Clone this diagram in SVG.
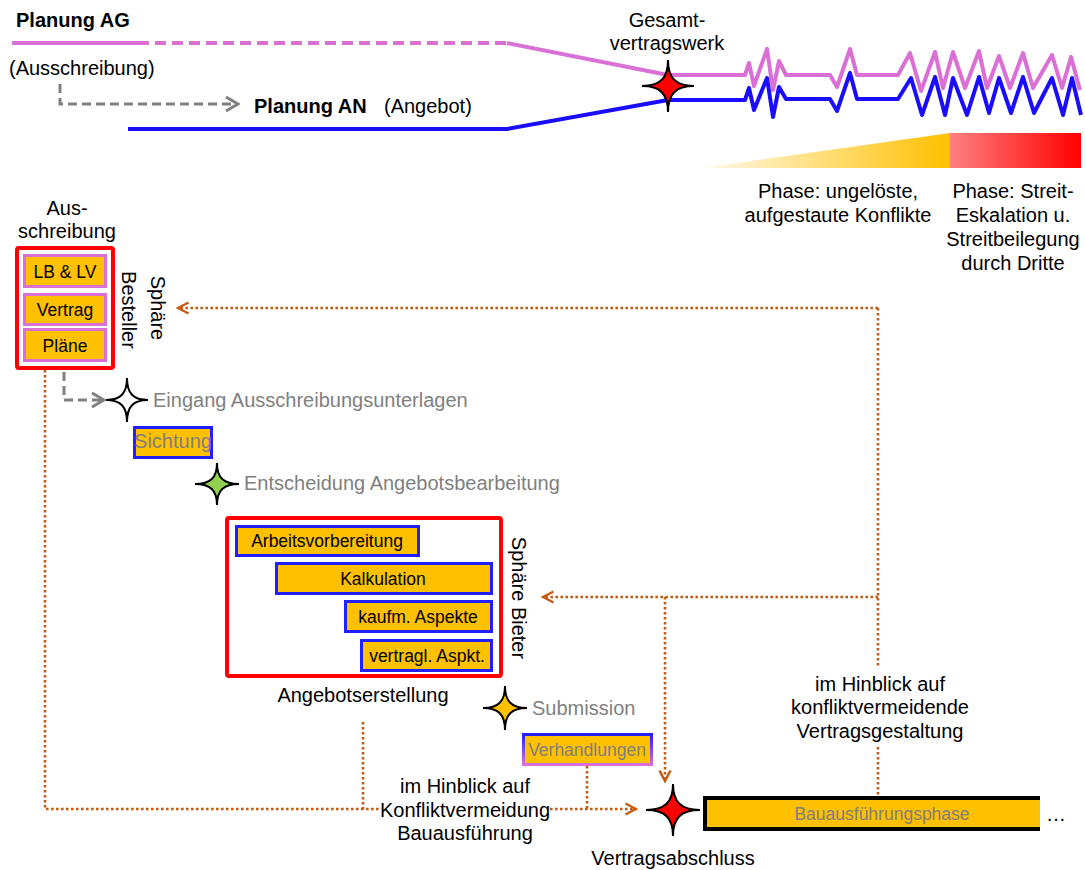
<svg xmlns="http://www.w3.org/2000/svg" width="1085" height="870" viewBox="0 0 1085 870">
  <style>
    text { font-family: "Liberation Sans", Arial, sans-serif; font-size: 20px; fill: #000; }
    .b { font-weight: bold; }
    .c { text-anchor: middle; }
    .g { fill: #7F7F7F; }
    .bx { font-size: 17.5px; }
    .task { fill: #FFC000; stroke: #2020FF; stroke-width: 3; }
    .doc { fill: #FFC000; stroke: #DA70D6; stroke-width: 3; }
    .sphere { fill: #FFFFFF; stroke: #FF0000; stroke-width: 4; }
    .dot { fill: none; stroke: #C55A11; stroke-width: 2.6; stroke-dasharray: 2.6 2.4; }
    .dash { fill: none; stroke: #808080; stroke-width: 3; stroke-dasharray: 9 5; }
    .ag { fill: none; stroke: #DA70D6; stroke-width: 4; stroke-linejoin: round; }
    .an { fill: none; stroke: #1A0DFF; stroke-width: 4; stroke-linejoin: round; }
    .star { stroke: #000; stroke-width: 2; stroke-linejoin: miter; }
  </style>
  <defs>
    <path id="star" d="M0,-1 C0,-0.3 0.3,0 1,0 C0.3,0 0,0.3 0,1 C0,0.3 -0.3,0 -1,0 C-0.3,0 0,-0.3 0,-1 Z" vector-effect="non-scaling-stroke"/>
    <marker id="arrO" markerWidth="14" markerHeight="14" refX="12" refY="7" orient="auto" markerUnits="userSpaceOnUse">
      <path d="M1.5,1.5 L12,7 L1.5,12.5" fill="none" stroke="#C55A11" stroke-width="2.5"/>
    </marker>
    <marker id="arrG" markerWidth="16" markerHeight="18" refX="14" refY="9" orient="auto" markerUnits="userSpaceOnUse">
      <path d="M2,2 L14,9 L2,16" fill="none" stroke="#808080" stroke-width="3"/>
    </marker>
    <linearGradient id="gradYellow" x1="0" y1="0" x2="1" y2="0">
      <stop offset="0" stop-color="#FFC000" stop-opacity="0.08"/>
      <stop offset="1" stop-color="#FFC000"/>
    </linearGradient>
    <linearGradient id="gradRed" x1="0" y1="0" x2="1" y2="0">
      <stop offset="0" stop-color="#FF8080"/>
      <stop offset="1" stop-color="#FF0000"/>
    </linearGradient>
    <linearGradient id="gradEdge" x1="0" y1="0" x2="0" y2="1">
      <stop offset="0" stop-color="#2020FF"/>
      <stop offset="1" stop-color="#DA70D6"/>
    </linearGradient>
  </defs>

  <!-- planning lines of client (AG) and contractor (AN) -->
  <g id="timeline">
    <text class="b" x="16" y="27">Planung AG</text>
    <path class="ag" d="M12,43 H138"/>
    <path class="ag" d="M138,43 H507" stroke-dasharray="11 6"/>
    <path class="ag" d="M507,43 L668,75 H745 L749,63 L754,86 L767,49 L773,90 L779,61 L786,75 H830 L837,87 L850,49 L857,75 H898 L910,53 L921,91 L935,52 L943,88 L953,52 L965,88 L979,51 L987,88 L999,56 L1010,88 L1023,53 L1033,88 L1052,55 L1062,88 L1071,57 L1080,90"/>
    <text x="9" y="75">(Ausschreibung)</text>
    <path class="dash" d="M60,84 V104 H238" marker-end="url(#arrG)"/>
    <text class="b" x="254" y="113">Planung AN</text>
    <text x="384" y="113">(Angebot)</text>
    <path class="an" d="M128,129 H507 L668,100 H745 L749,88 L754,110 L767,78 L773,117 L779,87 L786,99 H830 L837,111 L850,73 L857,99 H898 L911,78 L922,115 L935,77 L945,115 L953,78 L967,115 L979,77 L989,113 L999,78 L1011,113 L1023,77 L1034,113 L1052,78 L1063,115 L1072,78 L1081,115"/>
  </g>

  <g id="gesamtvertragswerk">
    <text class="c" x="667" y="27">Gesamt-</text>
    <text class="c" x="667" y="50">vertragswerk</text>
    <use class="star" href="#star" transform="translate(668,86) scale(26,26)" fill="#FF0000"/>
  </g>

  <!-- conflict phases -->
  <g id="phase-konflikte">
    <polygon points="702,168 950,133 950,168" fill="url(#gradYellow)"/>
    <text class="c" x="838" y="198">Phase: ungelöste,</text>
    <text class="c" x="838" y="222">aufgestaute Konflikte</text>
  </g>
  <g id="phase-streit">
    <rect x="950" y="133" width="131" height="35" fill="url(#gradRed)"/>
    <text class="c" x="1013" y="198">Phase: Streit-</text>
    <text class="c" x="1013" y="222">Eskalation u.</text>
    <text class="c" x="1013" y="246">Streitbeilegung</text>
    <text class="c" x="1013" y="270">durch Dritte</text>
  </g>

  <!-- tender documents of the client -->
  <g id="ausschreibung">
    <text class="c" x="67" y="215">Aus-</text>
    <text class="c" x="67" y="238">schreibung</text>
    <rect class="sphere" x="17" y="248" width="96" height="120" rx="2"/>
    <rect class="doc" x="24.5" y="255.5" width="81" height="31"/>
    <text class="c bx" x="65" y="278">LB &amp; LV</text>
    <rect class="doc" x="24.5" y="294.5" width="81" height="30"/>
    <text class="c bx" x="65" y="316">Vertrag</text>
    <rect class="doc" x="24.5" y="329.5" width="81" height="31"/>
    <text class="c bx" x="65" y="352">Pläne</text>
    <text class="c" transform="translate(151,308) rotate(90)">Sphäre</text>
    <text class="c" transform="translate(122,310) rotate(90)">Besteller</text>
  </g>

  <g id="eingang">
    <use class="star" href="#star" transform="translate(127,400) scale(21,22)" fill="#FFFFFF"/>
    <text class="g" x="153" y="407">Eingang Ausschreibungsunterlagen</text>
  </g>

  <g id="sichtung">
    <rect class="task" x="134.5" y="427.5" width="77" height="30"/>
    <text class="c g" x="173" y="448" font-size="17">Sichtung</text>
  </g>

  <g id="entscheidung">
    <use class="star" href="#star" transform="translate(217,484) scale(22,21)" fill="#92D050"/>
    <text class="g" x="244" y="490">Entscheidung Angebotsbearbeitung</text>
  </g>

  <!-- bid preparation of the bidder -->
  <g id="angebotserstellung">
    <rect class="sphere" x="227" y="518" width="274" height="158" rx="2"/>
    <rect class="task" x="236.5" y="526.5" width="182" height="29"/>
    <text class="c bx" x="327" y="547">Arbeitsvorbereitung</text>
    <rect class="task" x="276.5" y="563.5" width="215" height="30"/>
    <text class="c bx" x="383" y="585">Kalkulation</text>
    <rect class="task" x="345.5" y="601.5" width="146" height="30"/>
    <text class="c bx" x="418" y="623">kaufm. Aspekte</text>
    <rect class="task" x="361.5" y="640.5" width="130" height="30"/>
    <text class="c bx" x="427" y="662">vertragl. Aspkt.</text>
    <text class="c" transform="translate(512,598) rotate(90)">Sphäre Bieter</text>
    <text class="c" x="363" y="702">Angebotserstellung</text>
  </g>

  <g id="submission">
    <use class="star" href="#star" transform="translate(505,708) scale(22,22)" fill="#FFC000"/>
    <text class="g" x="532" y="715">Submission</text>
  </g>

  <g id="verhandlungen">
    <rect x="523.5" y="734.5" width="128" height="30" fill="#FFC000" stroke="url(#gradEdge)" stroke-width="3"/>
    <text class="c g bx" x="587" y="756">Verhandlungen</text>
  </g>

  <g id="vertragsabschluss">
    <use class="star" href="#star" transform="translate(673,810) scale(27,26)" fill="#FF0000"/>
    <text class="c" x="673" y="865">Vertragsabschluss</text>
  </g>

  <g id="bauausfuehrung">
    <rect x="705" y="798" width="335" height="31" fill="#FFC000"/>
    <path d="M1040,798 H705 V829 H1040" fill="none" stroke="#000" stroke-width="4"/>
    <text class="c g bx" x="882" y="820">Bauausführungsphase</text>
    <text x="1046" y="821">…</text>
  </g>

  <!-- feedback connectors -->
  <g id="connectors">
    <path class="dash" d="M64,372 V400 H104" marker-end="url(#arrG)"/>
    <path class="dot" d="M45,370 V809 H381"/>
    <path class="dot" d="M363,722 V809"/>
    <path class="dot" d="M550,809 H636" marker-end="url(#arrO)"/>
    <path class="dot" d="M587,766 V809"/>
    <path class="dot" d="M878,308 H178" marker-end="url(#arrO)"/>
    <path class="dot" d="M878,308 V668"/>
    <path class="dot" d="M878,597 H543" marker-end="url(#arrO)"/>
    <path class="dot" d="M665,597 V781" marker-end="url(#arrO)"/>
    <path class="dot" d="M878,747 V795"/>
  </g>
  <g id="connector-labels">
    <text class="c" x="465" y="793">im Hinblick auf</text>
    <text class="c" x="465" y="817">Konfliktvermeidung</text>
    <text class="c" x="465" y="840">Bauausführung</text>
    <text class="c" x="880" y="691">im Hinblick auf</text>
    <text class="c" x="880" y="714">konfliktvermeidende</text>
    <text class="c" x="880" y="738">Vertragsgestaltung</text>
  </g>
</svg>
